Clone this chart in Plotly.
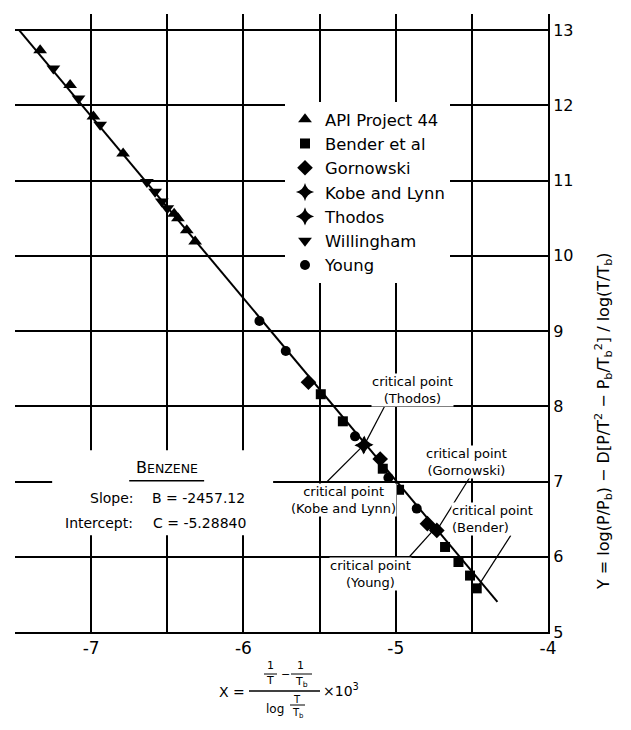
import plotly.graph_objects as go

# ---------------- data ----------------
api_x = [-7.335, -7.138, -6.985, -6.790, -6.455, -6.430, -6.372, -6.317]
api_y = [12.73, 12.27, 11.85, 11.36, 10.56, 10.50, 10.34, 10.19]

bender_x = [-5.492, -5.347, -5.085, -4.978, -4.676, -4.588, -4.512, -4.468]
bender_y = [8.16, 7.80, 7.17, 6.89, 6.13, 5.93, 5.75, 5.58]

gorn_x = [-5.573, -5.102, -4.792, -4.730]
gorn_y = [8.32, 7.30, 6.44, 6.35]

kobe_x = [-5.212]
kobe_y = [7.48]

thodos_x = [-5.205]
thodos_y = [7.49]

will_x = [-7.248, -7.083, -6.941, -6.634, -6.580, -6.536, -6.500]
will_y = [12.49, 12.09, 11.74, 10.98, 10.85, 10.72, 10.63]

young_x = [-5.895, -5.722, -5.267, -5.048, -4.862, -4.745]
young_y = [9.134, 8.735, 7.60, 7.05, 6.64, 6.37]

# fitted line end points
fit_x = [-7.473, -4.332]
fit_y = [13.00, 5.40]

x_tickvals = [-7.5, -7.0, -6.5, -6.0, -5.5, -5.0, -4.5, -4.0]
x_ticktext = ["", "-7", "", "-6", "", "-5", "", "-4"]
y_tickvals = [5, 6, 7, 8, 9, 10, 11, 12, 13]
y_ticktext = ["5", "6", "7", "8", "9", "10", "11", "12", "13"]

# ---------------- figure ----------------
FONT = "DejaVu Sans"
OFF = 8                      # page body margin
W, H = 623, 722
L, R, T, B = 7, 83, 6, 98
PW, PH = W - L - R, H - T - B


def px2x(px):               # page pixel -> paper x
    return (px - OFF - L) / PW


def py2y(py):               # page pixel -> paper y
    return (H - B - (py - OFF)) / PH


fig = go.Figure()

fig.add_trace(go.Scatter(x=fit_x, y=fit_y, mode="lines",
                         line=dict(color="black", width=2),
                         showlegend=False, hoverinfo="skip"))

series = [
    ("API Project 44", api_x, api_y, "triangle-up", 12),
    ("Bender et al", bender_x, bender_y, "square", 10),
    ("Gornowski", gorn_x, gorn_y, "diamond", 12),
    ("Kobe and Lynn", kobe_x, kobe_y, "star-diamond", 13),
    ("Thodos", thodos_x, thodos_y, "star-diamond", 13),
    ("Willingham", will_x, will_y, "triangle-down", 12),
    ("Young", young_x, young_y, "circle", 10),
]
for i, (name, xs, ys, sym, sz) in enumerate(series):
    fig.add_trace(go.Scatter(x=xs, y=ys, mode="markers", name=name,
                             legendgroup="g%d" % i,
                             marker=dict(symbol=sym, size=sz, color="black",
                                         line=dict(width=0))))

annotations = []
shapes = []

# critical point labels (data coords) and leader lines to the critical points
crit = [
    ("critical point<br>(Thodos)", -4.892, 8.22, "center", (-5.058, 8.057), (thodos_x[0], thodos_y[0])),
    ("critical point<br>(Kobe and Lynn)", -5.345, 6.75, "center", (-5.453, 6.994), (kobe_x[0], kobe_y[0])),
    ("critical point<br>(Gornowski)", -4.538, 7.255, "center", (-4.512, 7.06), (gorn_x[-1], gorn_y[-1])),
    ("critical point<br>(Bender)", -4.64, 6.497, "left", (-4.244, 6.285), (bender_x[-1], bender_y[-1])),
    ("critical point<br>(Young)", -5.168, 5.766, "center", (-4.919, 5.98), (young_x[-1], young_y[-1])),
]
for text, ax_, ay_, anchor, p0, p1 in crit:
    annotations.append(dict(x=ax_, y=ay_, xref="x", yref="y", text=text,
                            showarrow=False, xanchor=anchor, align=anchor,
                            font=dict(family=FONT, size=13, color="black"),
                            bgcolor="white", borderpad=0))
    shapes.append(dict(type="line", xref="x", yref="y", x0=p0[0], y0=p0[1],
                       x1=p1[0], y1=p1[1], line=dict(color="black", width=1.2)))

# white block behind the Benzene text (gap in the grid)
shapes.append(dict(type="rect", xref="x", yref="y", x0=-7.256, x1=-5.805,
                   y0=6.285, y1=7.415, fillcolor="white", line=dict(width=0),
                   layer="between"))
annotations.append(dict(x=-6.501, y=7.19, xref="x", yref="y",
                        text="B<span style='font-size:12.5px'>ENZENE</span>",
                        showarrow=False, font=dict(family=FONT, size=16, color="black")))
shapes.append(dict(type="line", xref="x", yref="y", x0=-6.75, x1=-6.258,
                   y0=7.01, y1=7.01, line=dict(color="black", width=1.5)))


def ptxt(px, py, s, size, anchor="center", angle=0):
    annotations.append(dict(x=px2x(px), y=py2y(py), xref="paper", yref="paper",
                            text=s, showarrow=False, xanchor=anchor, yanchor="middle",
                            textangle=angle,
                            font=dict(family=FONT, size=size, color="black")))


def pline(x0, x1, py, w=1.3):
    shapes.append(dict(type="line", xref="paper", yref="paper",
                       x0=px2x(x0), x1=px2x(x1), y0=py2y(py), y1=py2y(py),
                       line=dict(color="black", width=w)))


ptxt(88, 498, "Slope:", 14, "left")
ptxt(150, 498, "B = -2457.12", 14, "left")
ptxt(63, 523, "Intercept:", 14, "left")
ptxt(151, 523, "C = -5.28840", 14, "left")

# y-axis title (rotated)
ptxt(603, 421,
     "Y = log(P/P<sub>b</sub>) − D[P/T<sup>2</sup> − P<sub>b</sub>/T<sub>b</sub><sup>2</sup>] / log(T/T<sub>b</sub>)",
     16, "center", -90)

# x-axis title built as a fraction
ptxt(232, 692, "X =", 14)
pline(249, 320, 691, 1.5)
ptxt(321, 690, "×10<sup>3</sup>", 14, "left")
ptxt(270, 666, "1", 11)
pline(264, 277, 674, 1)
ptxt(270, 681, "T", 11)
ptxt(285, 674, "−", 11)
ptxt(300, 666, "1", 11)
pline(291, 312, 674, 1)
ptxt(301, 682, "T<sub>b</sub>", 11)
ptxt(275, 709, "log", 12)
ptxt(297, 699, "T", 10)
pline(290, 305, 705, 1)
ptxt(298, 713, "T<sub>b</sub>", 10)

fig.update_layout(
    width=W, height=H,
    margin=dict(l=L, r=R, t=T, b=B, autoexpand=False),
    paper_bgcolor="white", plot_bgcolor="white",
    font=dict(family=FONT, color="black"),
    xaxis=dict(range=[-7.5, -4.0], tickvals=x_tickvals, ticktext=x_ticktext,
               showgrid=True, gridcolor="black", gridwidth=1.6,
               showline=True, linecolor="black", linewidth=2,
               zeroline=False, ticks="", tickfont=dict(family=FONT, size=17)),
    yaxis=dict(range=[5.0, 13.213], tickvals=y_tickvals, ticktext=y_ticktext,
               side="right", showgrid=True, gridcolor="black", gridwidth=1.6,
               showline=True, linecolor="black", linewidth=2,
               zeroline=False, ticks="", tickfont=dict(family=FONT, size=16)),
    legend=dict(x=px2x(285), y=py2y(102), xanchor="left", yanchor="top",
                bgcolor="white", borderwidth=0, traceorder="grouped",
                tracegroupgap=0, font=dict(family=FONT, size=16.4, color="black")),
    annotations=annotations,
    shapes=shapes,
    showlegend=True,
)

fig.write_html("out.html")
